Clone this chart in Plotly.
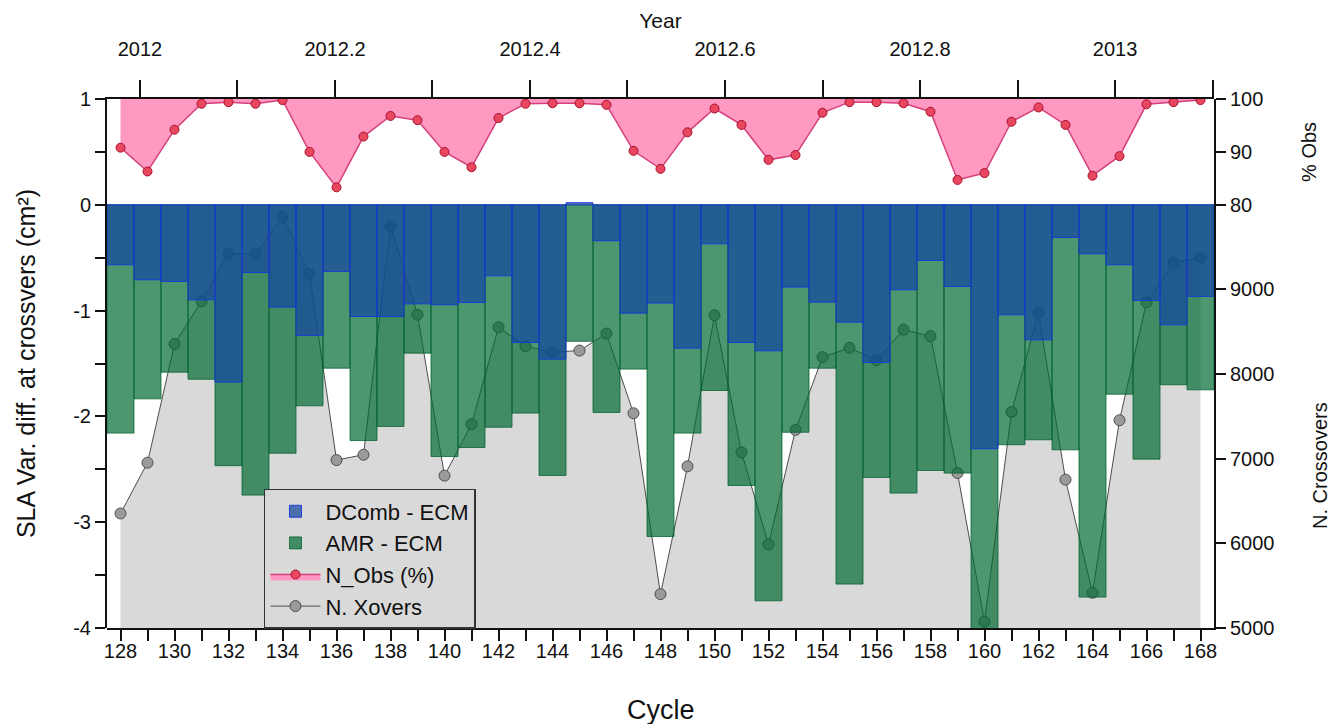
import plotly.graph_objects as go

# ---------------- data ----------------
cycles = list(range(128, 169))

dcomb_ecm = [-0.567, -0.709, -0.725, -0.898, -1.676, -0.640, -0.967, -1.235, -0.630, -1.056,
             -1.056, -0.936, -0.945, -0.923, -0.671, -1.301, -1.459, 0.020, -0.340, -1.024,
             -0.929, -1.355, -0.369, -1.301, -1.380, -0.778, -0.920, -1.109, -1.490, -0.803,
             -0.526, -0.772, -2.306, -1.040, -1.276, -0.309, -0.463, -0.567, -0.904, -1.134,
             -0.866]

amr_ecm = [-2.158, -1.834, -1.582, -1.649, -2.466, -2.744, -2.348, -1.900, -1.544, -2.228,
           -2.095, -1.402, -2.379, -2.294, -2.102, -1.969, -2.558, -1.290, -1.963, -1.553,
           -3.135, -2.158, -1.755, -2.653, -3.743, -2.150, -1.544, -3.585, -2.577, -2.725,
           -2.511, -2.536, -4.180, -2.268, -2.221, -2.316, -3.708, -1.790, -2.404, -1.701,
           -1.749]

n_obs_pct = [90.8, 86.3, 94.2, 99.1, 99.4, 99.1, 99.8, 90.0, 83.3, 92.9,
             96.8, 96.0, 90.0, 87.1, 96.4, 99.1, 99.2, 99.2, 98.9, 90.2,
             86.8, 93.7, 98.2, 95.1, 88.5, 89.4, 97.4, 99.4, 99.4, 99.2,
             97.6, 84.7, 86.0, 95.7, 98.4, 95.1, 85.5, 89.2, 99.0, 99.4,
             99.8]

n_xovers = [6353, 6953, 8356, 8859, 9427, 9416, 9859, 9184, 6984, 7047,
            9749, 8702, 6800, 7408, 8553, 8329, 8259, 8278, 8478, 7537,
            5400, 6910, 8694, 7075, 5988, 7341, 8200, 8310, 8165, 8526,
            8447, 6831, 5075, 7553, 8722, 6753, 5416, 7455, 8847, 9318,
            9376]

obs_full = [100.0] * len(cycles)

cycle_ticks = list(range(128, 169))
cycle_labels = [str(c) if c % 2 == 0 else "" for c in cycle_ticks]

year_ticks = [2012.0, 2012.1, 2012.2, 2012.3, 2012.4, 2012.5, 2012.6, 2012.7,
              2012.8, 2012.9, 2013.0, 2013.1]
year_labels = ["2012", "", "2012.2", "", "2012.4", "", "2012.6", "", "2012.8", "", "2013", ""]
year_range = [2011.9662, 2013.1015]

sla_ticks = [-4, -3.5, -3, -2.5, -2, -1.5, -1, -0.5, 0, 0.5, 1]
sla_labels = ["-4", "", "-3", "", "-2", "", "-1", "", "0", "", "1"]

xover_ticks = [5000, 6000, 7000, 8000, 9000]
obs_ticks = [80, 90, 100]

# ---------------- styling ----------------
FONT = "Liberation Sans, Arial, sans-serif"
GRAY_FILL = "#d9d9d9"

fig = go.Figure()

# N. Xovers (base subplot, drawn first -> beneath the bars)
fig.add_trace(go.Scatter(
    x=cycles, y=n_xovers, name="N. Xovers", xaxis="x", yaxis="y",
    mode="lines+markers", fill="tozeroy", fillcolor=GRAY_FILL,
    line=dict(color="#4d4d4d", width=1),
    marker=dict(size=11, color="#9a9a9a", line=dict(color="#4d4d4d", width=1)),
    legendgroup="g4", legendrank=4,
))

# Bars (second subplot, on top)
fig.add_trace(go.Bar(
    x=cycles, y=amr_ecm, name="AMR - ECM", xaxis="x", yaxis="y2", width=1,
    marker=dict(color="rgba(0,105,51,0.70)", line=dict(color="rgba(0,95,45,0.75)", width=1)),
    legendgroup="g2", legendrank=2,
))
fig.add_trace(go.Bar(
    x=cycles, y=dcomb_ecm, name="DComb - ECM", xaxis="x", yaxis="y2", width=1,
    marker=dict(color="rgba(20,70,160,0.72)", line=dict(color="rgba(25,55,220,0.9)", width=1)),
    legendgroup="g1", legendrank=1,
))

# N_Obs (%) (top panel)
fig.add_trace(go.Scatter(
    x=cycles, y=obs_full, xaxis="x", yaxis="y3", mode="lines",
    line=dict(width=0, color="rgba(0,0,0,0)"), showlegend=False, hoverinfo="skip",
))
fig.add_trace(go.Scatter(
    x=cycles, y=n_obs_pct, name="N_Obs (%)", xaxis="x", yaxis="y3",
    mode="lines+markers", fill="tonexty", fillcolor="#ff99c2",
    line=dict(color="#d6407a", width=1.5),
    marker=dict(size=9, color="#e8475f", line=dict(color="#a8102e", width=1)),
    legendgroup="g3", legendrank=3,
))

# helper (no marks) so the top "Year" axis is instantiated
fig.add_trace(go.Scatter(
    x=year_range, y=[None, None], xaxis="x2", yaxis="y2", mode="markers",
    showlegend=False, hoverinfo="skip",
))

tickfont = dict(family=FONT, size=20, color="#111")
axis_common = dict(ticks="outside", tickwidth=1.5, tickcolor="#111", showline=True,
                   linecolor="#111", linewidth=2, showgrid=False, zeroline=False,
                   tickfont=tickfont)

# page body has an 8px margin -> figure 1336x716 placed at (8,8)
fig.update_layout(
    width=1336, height=716,
    margin=dict(l=99, r=130, t=91, b=96),
    paper_bgcolor="white", plot_bgcolor="rgba(0,0,0,0)",
    barmode="overlay",
    font=dict(family=FONT, size=20, color="#111"),
    xaxis=dict(
        domain=[0, 1], range=[127.5, 168.5], anchor="y",
        tickvals=cycle_ticks, ticktext=cycle_labels, ticklen=11, ticklabelstandoff=-7,
        **axis_common,
    ),
    xaxis2=dict(
        overlaying="x", side="top", anchor="y2", range=year_range,
        tickvals=year_ticks, ticktext=year_labels, ticklen=17, ticklabelstandoff=16,
        title=dict(text="Year", font=dict(family=FONT, size=21), standoff=4),
        **axis_common,
    ),
    yaxis=dict(
        domain=[0, 0.8], range=[5000, 10000], side="right", anchor="x",
        tickvals=xover_ticks, ticklen=10, tickformat="d",
        **axis_common,
    ),
    yaxis2=dict(
        domain=[0, 1], range=[-4, 1], side="left", anchor="x",
        tickvals=sla_ticks, ticktext=sla_labels, ticklen=10,
        title=dict(text="SLA Var. diff. at crossvers (cm²)", font=dict(family=FONT, size=25), standoff=30),
        **axis_common,
    ),
    yaxis3=dict(
        domain=[0.8, 1], range=[80, 100], side="right", anchor="x",
        tickvals=obs_ticks, ticklen=10,
        title=dict(text="% Obs", font=dict(family=FONT, size=20), standoff=40),
        **axis_common,
    ),
    annotations=[
        dict(text="N. Crossovers", textangle=-90, xref="paper", yref="paper",
             x=1.0957, y=0.308, xanchor="center", yanchor="middle", showarrow=False,
             font=dict(family=FONT, size=20, color="#111")),
        dict(text="Cycle", xref="paper", yref="paper",
             x=0.5, y=-0.155, xanchor="center", yanchor="middle", showarrow=False,
             font=dict(family=FONT, size=27, color="#111")),
    ],
    legend=dict(
        x=0.1418, y=0.2628, xanchor="left", yanchor="top",
        bgcolor="rgba(217,217,217,0.95)", bordercolor="#333", borderwidth=1.5,
        font=dict(family=FONT, size=22, color="#111"),
        tracegroupgap=0, itemwidth=50,
    ),
    showlegend=True,
)

fig.write_html("out.html")
